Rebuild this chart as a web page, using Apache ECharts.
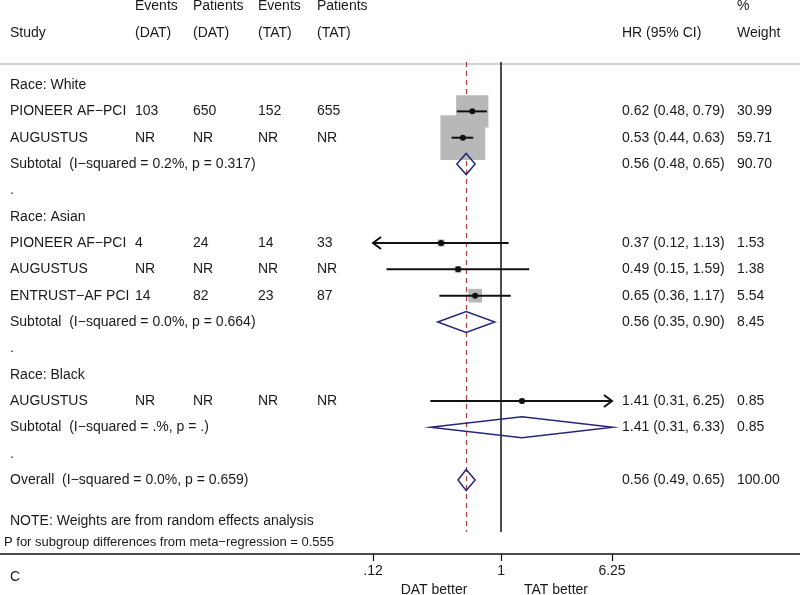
<!DOCTYPE html>
<html>
<head>
<meta charset="utf-8">
<script src="https://cdn.jsdelivr.net/npm/echarts@6/dist/echarts.min.js"></script>
<style>
  html, body { margin: 0; background: #fff; }
  #chart { width: 800px; height: 595px; }
</style>
</head>
<body>
<div id="chart"></div>
<script>
// rows of the table, top to bottom
const studyLabels = [
  'Race: White', 'PIONEER AF\u2212PCI', 'AUGUSTUS', 'Subtotal  (I\u2212squared = 0.2%, p = 0.317)', '.',
  'Race: Asian', 'PIONEER AF\u2212PCI', 'AUGUSTUS', 'ENTRUST\u2212AF PCI', 'Subtotal  (I\u2212squared = 0.0%, p = 0.664)', '.',
  'Race: Black', 'AUGUSTUS', 'Subtotal  (I\u2212squared = .%, p = .)', '.',
  'Overall  (I\u2212squared = 0.0%, p = 0.659)'
]
const eventsDAT   = ['', '103', 'NR', '', '', '', '4',  'NR', '14', '', '', '', 'NR', '', '', '']
const patientsDAT = ['', '650', 'NR', '', '', '', '24', 'NR', '82', '', '', '', 'NR', '', '', '']
const eventsTAT   = ['', '152', 'NR', '', '', '', '14', 'NR', '23', '', '', '', 'NR', '', '', '']
const patientsTAT = ['', '655', 'NR', '', '', '', '33', 'NR', '87', '', '', '', 'NR', '', '', '']
const isSubtotal  = [false, false, false, true, false, false, false, false, false, true, false, false, false, true, false, true]
const hr      = [null, 0.62, 0.53, 0.56, null, null, 0.37, 0.49, 0.65, 0.56, null, null, 1.41, 1.41, null, 0.56]
const ciLow   = [null, 0.48, 0.44, 0.48, null, null, 0.12, 0.15, 0.36, 0.35, null, null, 0.31, 0.31, null, 0.49]
const ciHigh  = [null, 0.79, 0.63, 0.65, null, null, 1.13, 1.59, 1.17, 0.90, null, null, 6.25, 6.33, null, 0.65]
const weight  = [null, 30.99, 59.71, 90.70, null, null, 1.53, 1.38, 5.54, 8.45, null, null, 0.85, 0.85, null, 100.00]
const overallHR = 0.56
const xMin = 0.12
const xMax = 6.25
const xTicks = [0.12, 1, 6.25]
const xTickLabels = ['.12', '1', '6.25']

// layout
const colX = [10, 135, 193, 258, 317, 622, 737]
const FONT_FAMILY = '"Liberation Sans", Arial, sans-serif'
const FONT = '14px ' + FONT_FAMILY
const SMALL = '13px ' + FONT_FAMILY
const TEXT = '#1a1a1a'
const BOX_SCALE = 5.8 // px per sqrt(weight)

const fmt = v => v.toFixed(2)
const hrText = hr.map((v, i) => v == null ? '' : `${fmt(v)} (${fmt(ciLow[i])}, ${fmt(ciHigh[i])})`)
const weightText = weight.map(v => v == null ? '' : fmt(v))

const columns = [studyLabels, eventsDAT, patientsDAT, eventsTAT, patientsTAT, hrText, weightText]
const tableCells = []
columns.forEach((col, c) => {
  col.forEach((txt, row) => {
    if (txt) tableCells.push([colX[c], row, txt])
  })
})

const forestData = []
hr.forEach((v, row) => {
  if (v == null) return
  forestData.push([v, row, ciLow[row], ciHigh[row], weight[row], isSubtotal[row] ? 1 : 0])
})

const chart = echarts.init(document.getElementById('chart'))

const headerText = (text, x, y, extra) => ({
  type: 'text', x, y, silent: true,
  style: Object.assign({ text, font: FONT, fill: TEXT, textVerticalAlign: 'middle', verticalAlign: 'middle' }, extra || {}),
})

chart.setOption({
  animation: false,
  grid: [
    { left: 373, width: 239, top: 62, height: 470 },
    { left: 0, right: 0, top: 62, height: 470 },
  ],
  xAxis: [
    {
      type: 'log', gridIndex: 0, position: 'bottom', min: xMin, max: xMax, offset: 22,
      axisLine: { show: false, onZero: false },
      splitLine: { show: false },
      axisTick: { show: true, customValues: xTicks, length: 7, lineStyle: { color: '#111', width: 1.2 } },
      axisLabel: {
        customValues: xTicks, margin: 10, color: TEXT, fontSize: 14, fontFamily: FONT_FAMILY,
        formatter: v => xTickLabels[xTicks.findIndex(t => Math.abs(t - v) < 1e-6)] || '',
      },
    },
    {
      type: 'value', gridIndex: 1, position: 'bottom', min: 0, max: 800, offset: 22,
      axisLine: { show: true, onZero: false, lineStyle: { color: '#111', width: 1.5 } },
      axisTick: { show: false }, axisLabel: { show: false }, splitLine: { show: false },
    },
  ],
  yAxis: [
    { type: 'value', gridIndex: 0, inverse: true, min: -0.875, max: 16.975, show: false },
    { type: 'value', gridIndex: 1, inverse: true, min: -0.875, max: 16.975, show: false },
  ],
  graphic: [
    { type: 'line', silent: true, shape: { x1: 0, y1: 64, x2: 800, y2: 64 }, style: { stroke: '#d2d2d2', lineWidth: 2 } },
    headerText('Events', colX[1], 6),
    headerText('Patients', colX[2], 6),
    headerText('Events', colX[3], 6),
    headerText('Patients', colX[4], 6),
    headerText('%', colX[6], 6),
    headerText('Study', colX[0], 33),
    headerText('(DAT)', colX[1], 33),
    headerText('(DAT)', colX[2], 33),
    headerText('(TAT)', colX[3], 33),
    headerText('(TAT)', colX[4], 33),
    headerText('HR (95% CI)', colX[5], 33),
    headerText('Weight', colX[6], 33),
    headerText('NOTE: Weights are from random effects analysis', 10, 521),
    headerText('P for subgroup differences from meta\u2212regression = 0.555', 4, 542, { font: SMALL }),
    headerText('C', 10, 577),
    headerText('DAT better', 434, 590, { textAlign: 'center', align: 'center' }),
    headerText('TAT better', 556, 590, { textAlign: 'center', align: 'center' }),
  ],
  series: [
    {
      type: 'custom',
      xAxisIndex: 1, yAxisIndex: 1,
      silent: true,
      clip: false,
      data: tableCells.map(c => [c[0], c[1]]),
      renderItem: (params, api) => {
        const p = api.coord([api.value(0), api.value(1)])
        return {
          type: 'text', x: p[0], y: p[1],
          style: {
            text: tableCells[params.dataIndex][2], font: FONT, fill: TEXT,
            align: 'left', verticalAlign: 'middle', textAlign: 'left', textVerticalAlign: 'middle',
          },
        }
      },
    },
    {
      type: 'custom',
      xAxisIndex: 0, yAxisIndex: 0,
      silent: true,
      clip: false,
      z: 3,
      data: forestData,
      encode: { x: 0, y: 1 },
      renderItem: (params, api) => {
        const row = api.value(1)
        const c = api.coord([api.value(0), row])
        const lo = api.coord([api.value(2), row])
        const hi = api.coord([api.value(3), row])
        const rowPx = api.coord([api.value(0), row + 1])[1] - c[1]
        if (api.value(5) === 1) {
          const h = rowPx * 0.4
          return {
            type: 'polygon', z2: 20,
            shape: { points: [[lo[0], c[1]], [c[0], c[1] - h], [hi[0], c[1]], [c[0], c[1] + h]] },
            style: { fill: 'none', stroke: '#27277a', lineWidth: 1.5 },
          }
        }
        const side = BOX_SCALE * Math.sqrt(api.value(4))
        const children = [
          {
            type: 'rect', z2: 5,
            shape: { x: c[0] - side / 2, y: c[1] - side / 2, width: side, height: side },
            style: { fill: '#b8b8b8' },
          },
          {
            type: 'line', z2: 20,
            shape: { x1: lo[0], y1: c[1], x2: hi[0], y2: c[1] },
            style: { stroke: '#111', lineWidth: 2 },
          },
          {
            type: 'circle', z2: 21,
            shape: { cx: c[0], cy: c[1], r: 3 },
            style: { fill: '#111' },
          },
        ]
        if (api.value(2) <= xMin) {
          children.push({
            type: 'polyline', z2: 20,
            shape: { points: [[lo[0] + 8, c[1] - 6], [lo[0], c[1]], [lo[0] + 8, c[1] + 6]] },
            style: { fill: 'none', stroke: '#111', lineWidth: 2 },
          })
        }
        if (api.value(3) >= xMax) {
          children.push({
            type: 'polyline', z2: 20,
            shape: { points: [[hi[0] - 8, c[1] - 6], [hi[0], c[1]], [hi[0] - 8, c[1] + 6]] },
            style: { fill: 'none', stroke: '#111', lineWidth: 2 },
          })
        }
        return { type: 'group', children }
      },
      markLine: {
        silent: true,
        symbol: 'none',
        z: 1,
        label: { show: false },
        data: [
          { xAxis: 1, lineStyle: { color: '#111', type: 'solid', width: 1.5 } },
          { xAxis: overallHR, lineStyle: { color: '#a8403c', type: [5, 4], width: 1.2 } },
        ],
      },
    },
  ],
})
</script>
</body>
</html>
